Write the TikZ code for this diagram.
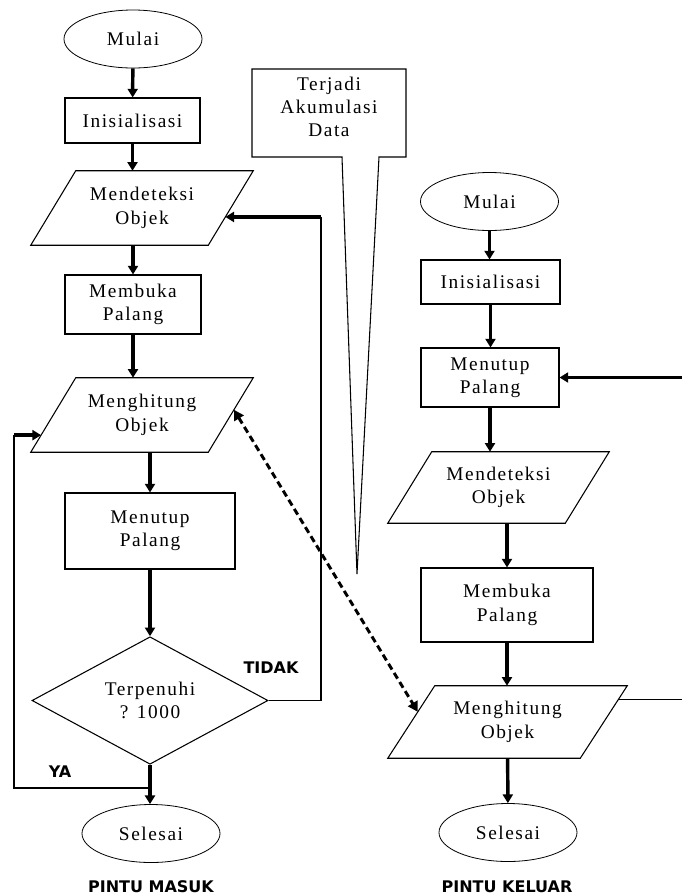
\documentclass[tikz,border=0pt]{standalone}
\usepackage{fontspec}
\setmainfont[LetterSpace=8]{Liberation Serif}
\newfontfamily\tagfont{DejaVu Sans}
\usetikzlibrary{positioning, arrows.meta, shapes.geometric, calc}

\begin{document}
\begin{tikzpicture}[
    x=0.75pt, y=-0.75pt,
    font=\fontsize{14.5}{17.5}\selectfont,
    box/.style={draw, rectangle, line width=0.8pt, align=center, inner sep=0pt},
    terminal/.style={draw, ellipse, line width=0.6pt, minimum width=103.5pt, minimum height=43.5pt, inner sep=0pt},
    io/.style={rectangle, align=center, inner sep=0pt},
    decision/.style={draw, diamond, line width=0.8pt, align=center, inner sep=0pt, minimum width=177pt, minimum height=86.25pt},
    arr/.style={-{Triangle[length=6.5pt, width=7.5pt]}, line width=2.6pt},
    thinline/.style={line width=1pt},
    tag/.style={font=\tagfont\bfseries\fontsize{12}{14}\selectfont}
]
    \useasboundingbox (0,0) rectangle (682,894);

    \node[terminal] (mulaiA) at (133,39) {Mulai};
    \node[box, minimum width=101.25pt, minimum height=33.75pt] (initA) at (132.5,120.5) {Inisialisasi};
    \node[io, minimum width=132.75pt, minimum height=55.5pt] (deteksiA) at (142,208) {Mendeteksi\\Objek};
    \node[box, minimum width=102pt, minimum height=44.25pt] (bukaA) at (133,304.5) {Membuka\\Palang};
    \node[io, minimum width=132.75pt, minimum height=55.5pt] (hitungA) at (142,415) {Menghitung\\Objek};
    \node[box, minimum width=127.5pt, minimum height=57pt] (tutupA) at (150,531) {Menutup\\Palang};
    \node[decision] (cekA) at (150,700.5) {Terpenuhi\\? 1000};
    \node[terminal] (selesaiA) at (151,833.5) {Selesai};
    \node[tag, anchor=base] (masuk) at (151,892) {PINTU MASUK};

    \node[terminal] (mulaiB) at (489.5,201.5) {Mulai};
    \node[box, minimum width=104.25pt, minimum height=33pt] (initB) at (490.5,282) {Inisialisasi};
    \node[box, minimum width=103.5pt, minimum height=44.25pt] (tutupB) at (490,377.5) {Menutup\\Palang};
    \node[io, minimum width=132.75pt, minimum height=53.25pt] (deteksiB) at (498.5,487.5) {Mendeteksi\\Objek};
    \node[box, minimum width=129pt, minimum height=55.5pt] (bukaB) at (507,605) {Membuka\\Palang};
    \node[io, minimum width=144pt, minimum height=54pt] (hitungB) at (507.5,722) {Menghitung\\Objek};
    \node[terminal] (selesaiB) at (508,832.5) {Selesai};
    \node[tag, anchor=base] (keluar) at (507,892) {PINTU KELUAR};

    \foreach \n/\s in {deteksiA/22.5, hitungA/22.5, deteksiB/22, hitungB/23.5}{
        \coordinate (\n-tl) at ($(\n.north west)+(\s,0)$);
        \coordinate (\n-tr) at ($(\n.north east)+(\s,0)$);
        \coordinate (\n-br) at ($(\n.south east)-(\s,0)$);
        \coordinate (\n-bl) at ($(\n.south west)-(\s,0)$);
        \draw[line width=0.8pt] (\n-tl) -- (\n-tr) -- (\n-br) -- (\n-bl) -- cycle;
    }

    \draw[line width=0.8pt] (252,69) -- (406,69) -- (406,157) -- (379,157) -- (357,574) -- (342,157) -- (252,157) -- cycle;
    \node[align=center] (akumulasi) at (329,107) {Terjadi\\Akumulasi\\Data};

    \draw[arr] (mulaiA) -- (initA);
    \draw[arr] (initA) -- (initA |- deteksiA.north);
    \draw[arr] (bukaA |- deteksiA.south) -- (bukaA.north);
    \draw[arr] (bukaA) -- (bukaA |- hitungA.north);
    \draw[arr] (tutupA |- hitungA.south) -- (tutupA.north);
    \draw[arr] (tutupA) -- (cekA);
    \draw[arr] (cekA.south) -- (cekA.south |- selesaiA.north);

    \draw[arr] (mulaiB.south) -- (mulaiB.south |- initB.north);
    \draw[arr] (initB) -- (initB |- tutupB.north);
    \draw[arr] (tutupB.south) -- (tutupB.south |- deteksiB.north);
    \draw[arr] (bukaB |- deteksiB.south) -- (bukaB.north);
    \draw[arr] (bukaB) -- (bukaB |- hitungB.north);
    \draw[arr] (hitungB) -- (selesaiB);

    \coordinate (deteksiAkanan) at ($(deteksiA-tr)!0.62!(deteksiA-br)$);
    \coordinate (tidakSisi) at (321,700.5);
    \draw[thinline] (cekA.east) -- (tidakSisi) -- (tidakSisi |- deteksiAkanan);
    \draw[arr] (tidakSisi |- deteksiAkanan) -- (deteksiAkanan);
    \node[tag] (tidak) at (271,668) {TIDAK};

    \coordinate (hitungAkiri) at ($(hitungA-tl)!0.77!(hitungA-bl)$);
    \coordinate (yaJoin) at (150,788);
    \coordinate (yaSisi) at (14,788);
    \draw[thinline] (yaJoin) -- (yaSisi) -- (yaSisi |- hitungAkiri);
    \draw[arr] (yaSisi |- hitungAkiri) -- (hitungAkiri);
    \node[tag] (ya) at (60,772) {YA};

    \coordinate (masukKanan) at (682,377.5);
    \draw[arr] (masukKanan) -- (tutupB.east);
    \coordinate (hitungBkanan) at ($(hitungB-tr)!0.19!(hitungB-br)$);
    \coordinate (keluarKanan) at (682,700);
    \draw[thinline] (hitungBkanan) -- (hitungBkanan -| keluarKanan);

    \draw[{Triangle[length=7.5pt, width=8pt]}-{Triangle[length=7.5pt, width=8pt]}, line width=2.2pt, dash pattern=on 5pt off 3pt]
        ($(hitungA-tr)!0.43!(hitungA-br)$) -- ($(hitungB-tl)!0.36!(hitungB-bl)$);
\end{tikzpicture}
\end{document}
